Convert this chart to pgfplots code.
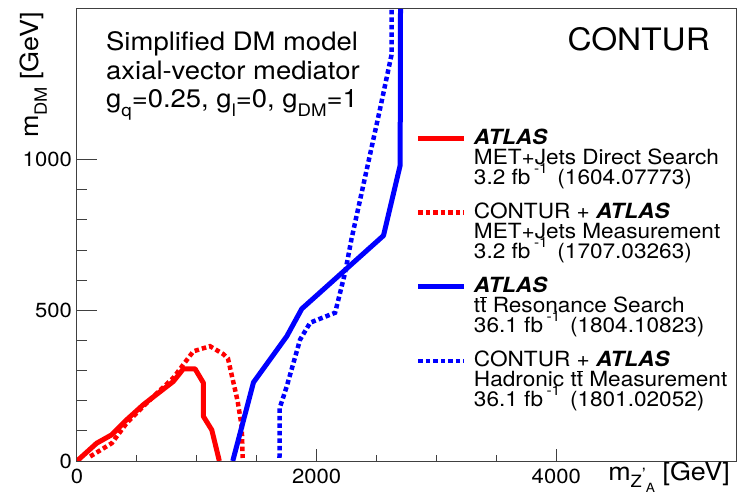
\documentclass[border=0pt]{standalone}
\usepackage{fontspec}
\setmainfont{TeX Gyre Heros}[FakeStretch=1.08]
\usepackage{graphicx}
\usepackage{pgfplots}
\pgfplotsset{compat=1.18}

\definecolor{rootred}{RGB}{255,0,0}
\definecolor{rootblue}{RGB}{0,0,255}

\newcommand{\lo}[1]{\raisebox{-0.32em}{\scalebox{0.68}{#1}}}
\newcommand{\hi}[1]{\raisebox{0.55em}{\scalebox{0.68}{#1}}}
\newcommand{\ttbar}{t$\overline{\mbox{t}}$}
\newcommand{\atlas}{\textbf{\textit{ATLAS}}}
% three lines, first baseline is the box baseline, fixed 20bp spacing
\newcommand{\three}[3]{\vtop{\baselineskip=20bp\lineskiplimit=-50bp\lineskip=0pt
  \hbox{#1}\hbox{#2}\hbox{#3}}}

\newcommand\ticfont{\fontsize{20.5}{24}\selectfont}
\newcommand\legfont{\fontsize{21}{20}\selectfont}
\newcommand\labfont{\fontsize{25}{30}\selectfont}
\newcommand\txtfont{\fontsize{25.5}{29}\selectfont}
\newcommand\confont{\fontsize{31}{36}\selectfont}

\begin{document}
\begin{tikzpicture}
\useasboundingbox (-77bp,-38bp) rectangle (665bp,461bp);
\begin{axis}[
  at={(0,0)}, anchor=south west, scale only axis,
  width=659bp, height=452bp,
  xmin=0, xmax=5500, ymin=0, ymax=1500,
  xtick={0,2000,4000}, ytick={0,500,1000},
  minor x tick num=3, minor y tick num=4,
  tick align=inside, xtick pos=bottom, ytick pos=left,
  axis line style={black!75, line width=1bp},
  tick style={black!75, line width=1bp},
  xtick style={/pgfplots/major tick length=12bp, /pgfplots/minor tick length=6bp},
  ytick style={/pgfplots/major tick length=20bp, /pgfplots/minor tick length=10bp},
  tick label style={font=\ticfont},
  /pgf/number format/assume math mode=true,
  /pgf/number format/1000 sep={},
  yticklabel style={inner sep=0pt, xshift=-5bp},
  xticklabel style={inner sep=0pt, yshift=-8bp},
  xlabel={m\raisebox{-0.28em}{\scalebox{0.68}{Z\raisebox{0.45em}{'}\raisebox{-0.3em}{\scalebox{0.75}{A}}}} [GeV]},
  ylabel={m\lo{DM} [GeV]},
  xlabel style={at={(axis description cs:0.991,-0.044)}, anchor=base east, font=\labfont, inner sep=0pt},
  ylabel style={at={(axis description cs:-0.0577,0.993)}, anchor=base east, font=\labfont, inner sep=0pt},
  clip mode=individual,
  legend style={at={(0.5144,0.7345)}, anchor=north west, draw=none, fill=none,
    inner sep=0pt, outer sep=0pt, row sep=57bp, column sep=7bp,
    font=\legfont, nodes={inner sep=0pt}, cells={anchor=base west}},
  legend image code/.code={\draw[#1] (0bp,6bp) -- (46bp,6bp);},
]

\addplot[rootred, line width=5bp, line join=round] coordinates {
  (0,0)(164,59)(290,87)(415,137)(554,187)(804,264)(888,306)(985,306)
  (1055,259)(1055,148)(1125,103)(1188,0)
};
\addlegendentry{\three{\atlas}{MET+Jets Direct Search}{3.2 fb\,\hi{-1}\, (1604.07773)}}

\addplot[rootred, line width=4.5bp, dash pattern=on 4.5bp off 3bp] coordinates {
  (110,15)(290,59)(415,126)(637,214)(804,276)(971,364)(1110,381)
  (1220,355)(1260,340)(1300,270)(1340,200)(1375,114)(1383,10)
};
\addlegendentry{\three{CONTUR + \atlas}{MET+Jets Measurement}{3.2 fb\,\hi{-1}\, (1707.03263)}}

\addplot[rootblue, line width=5bp, line join=round] coordinates {
  (1300,0)(1473,261)(1751,414)(1876,505)(2558,748)(2697,981)(2700,1500)
};
\addlegendentry{\three{\atlas}{\ttbar{} Resonance Search}{36.1 fb\,\hi{-1}\, (1804.10823)}}

\addplot[rootblue, line width=4.5bp, dash pattern=on 4.5bp off 3bp] coordinates {
  (1690,10)(1692,176)(1751,248)(1862,403)(1946,459)(2154,492)(2238,626)
  (2290,735)(2530,1170)(2625,1348)(2625,1500)
};
\addlegendentry{\three{CONTUR + \atlas}{Hadronic \ttbar{} Measurement}{36.1 fb\,\hi{-1}\, (1801.02052)}}

\node[anchor=base west, inner sep=0pt, font=\txtfont] at (rel axis cs:0.044,0.909)
  {\begin{tabular}[t]{@{}l@{}}Simplified DM model\\axial-vector mediator\\g\lo{q}=0.25, g\lo{l}=0, g\lo{DM}=1\end{tabular}};
\node[anchor=base east, inner sep=0pt, font=\confont] at (rel axis cs:0.9606,0.909) {CONTUR};
\end{axis}
\end{tikzpicture}
\end{document}
